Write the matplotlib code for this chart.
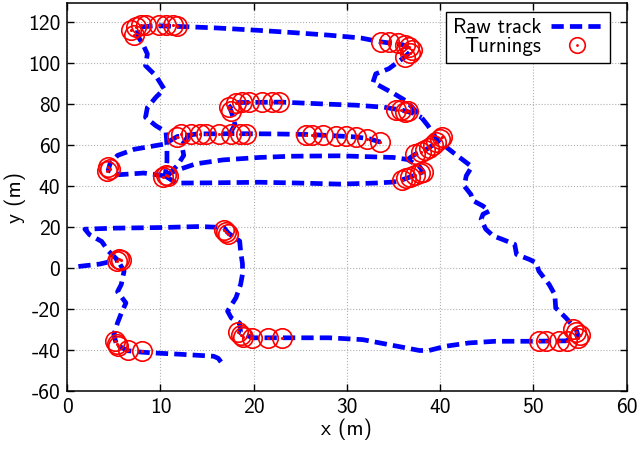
import numpy as np
import matplotlib
matplotlib.use('Agg')
import matplotlib.pyplot as plt
from matplotlib.legend_handler import HandlerTuple

plt.rcParams['font.family'] = ['cmss10', 'DejaVu Sans']
plt.rcParams['axes.unicode_minus'] = False
plt.rcParams['mathtext.fontset'] = 'cm'

nan = np.nan

# Raw track, pieces separated by NaN
track_x = [16.5, 16.2, 15.7, 12.0, 9.3, 8.0, 6.5, 5.3, 5.0, 5.4, 5.8, 6.3, 5.4, 5.8, 6.1, 5.4, nan,
           1.2, 3.5, 5.4, nan,
           5.4, 4.4, 3.7, 2.4, 1.9, 5.0, 10.0, 14.2, 16.8, 17.3, 18.5, 18.6, 18.8, 18.8, 18.6, 18.1, 17.2,
           17.6, 18.5, 18.6, 19.9, 24.5, 28.1, 31.7, 35.3, 37.8, 38.8, 40.6, 43.1, 45.9, 49.5, 53.5, 54.8,
           54.6, 53.5, 52.4, 52.3, 51.7, 50.6, 50.3, 49.6, 48.2, 48.0, 46.7, 45.7, 44.9, 44.4, 44.6, 45.3,
           44.6, 43.5, 43.3, 42.6, 42.8, 43.4, 41.4, 39.7, 38.7, 38.0, 37.0, 36.3, 35.1, 33.8, 32.8, 33.1,
           34.5, 36.2, 36.9, 36.0, 33.5, 31.5, 28.0, 24.0, 20.6, 16.0, 12.7, 9.5, 7.5, 7.6, 8.1, 8.6, 8.4,
           9.5, 10.4, 9.5, 8.6, 8.4, 9.5, 10.6, 10.7, 10.7, 10.5, nan,
           10.5, 8.2, 5.6, 4.4, 4.6, 5.4, 7.2, 10.4, 11.8, 14.0, 18.0, 22.0, 26.0, 29.0, 31.0, 32.5, 33.6, nan,
           10.8, 11.8, 12.5, 12.3, 13.0, nan,
           17.5, 18.0, 17.6, 17.4, 18.1, 23.0, 28.0, 31.0, 34.0, 36.0, 37.2, 38.0, nan,
           10.5, 11.7, 15.0, 20.6, 25.0, 29.2, 33.0, 35.0, 36.0, 37.0, 38.2, 37.8, 36.5, 35.0, 29.2, 24.0,
           20.6, 16.7, 13.8, 11.6, 10.5, nan,
           36.5, 37.3, 38.4, 39.2, 39.7]
track_y = [-45.8, -44.0, -43.0, -42.0, -41.4, -41.0, -40.3, -37.5, -32.5, -26.7, -22.0, -17.0, -11.5, -8.0, -1.5, 4.0, nan,
           0.8, 2.0, 4.0, nan,
           4.0, 8.4, 13.0, 16.3, 19.0, 19.5, 19.8, 20.3, 19.8, 17.0, 13.2, 8.3, 2.1, -3.0, -8.0, -14.5, -21.0,
           -24.3, -26.8, -31.6, -34.0, -34.0, -34.0, -34.9, -38.0, -40.2, -40.2, -38.1, -36.5, -35.7, -35.7, -35.5, -33.0,
           -30.0, -24.3, -19.4, -12.9, -8.0, -1.5, 2.6, 4.2, 6.7, 11.6, 14.0, 15.7, 19.0, 23.8, 26.3, 27.9,
           30.3, 33.0, 36.0, 40.0, 45.0, 49.5, 56.4, 62.5, 69.5, 73.5, 78.5, 81.7, 85.0, 88.2, 90.7, 94.8,
           97.3, 103.0, 106.0, 109.0, 110.5, 112.3, 113.7, 115.0, 116.0, 117.2, 117.8, 118.3, 117.5, 113.0, 109.4, 104.5, 98.8,
           93.9, 87.4, 83.3, 78.4, 73.6, 69.5, 66.5, 60.0, 52.0, 45.0, nan,
           45.0, 46.4, 45.6, 47.8, 51.0, 55.0, 58.0, 60.5, 64.2, 65.5, 65.6, 65.5, 65.2, 64.5, 64.0, 63.0, 61.5, nan,
           45.5, 50.0, 55.0, 60.0, 64.5, nan,
           66.0, 70.0, 76.5, 78.4, 80.8, 81.0, 80.0, 79.5, 78.5, 77.0, 75.5, 73.5, nan,
           45.0, 41.5, 41.6, 41.9, 41.5, 41.0, 41.5, 42.0, 43.2, 44.8, 47.0, 49.5, 53.0, 54.0, 54.8, 54.6,
           54.0, 52.8, 50.9, 47.5, 45.0, nan,
           53.0, 55.5, 57.5, 60.0, 62.5]

# Turnings
turn_x = [6.8, 7.2, 7.4, 7.9, 8.4, 9.9, 10.6, 11.3, 11.8,
          33.7, 34.5, 35.5, 36.2, 36.7, 37.0, 36.8, 36.2,
          17.4, 17.6, 18.1, 18.8, 19.5, 20.9, 22.0, 22.7,
          35.3, 35.8, 36.2, 36.6,
          11.8, 12.2, 13.3, 14.2, 14.9, 16.3, 17.6, 18.5, 19.2,
          25.6, 26.3, 27.4, 28.8, 29.9, 31.0, 32.2, 33.6,
          37.3, 37.9, 38.4, 38.8, 39.2, 39.6, 40.0, 40.2,
          35.9, 36.3, 36.8, 37.3, 37.8, 38.2,
          4.4, 4.3, 4.6,
          10.3, 10.6, 10.8,
          5.3, 5.6, 5.8,
          16.8, 17.0, 17.2,
          18.3, 18.6, 18.9, 19.8, 21.5, 23.0,
          5.1, 5.3, 5.5, 6.5, 8.0,
          50.6, 51.4, 52.8, 53.6, 54.3, 54.6, 55.0, 54.8]
turn_y = [116.0, 113.8, 117.6, 118.4, 118.4, 118.4, 118.4, 118.4, 118.2,
          110.5, 110.5, 110.0, 109.0, 108.0, 106.5, 105.0, 103.0,
          78.4, 76.5, 80.5, 81.0, 81.0, 81.0, 81.0, 81.0,
          77.0, 77.0, 76.3, 76.5,
          64.0, 65.5, 65.5, 65.5, 65.5, 65.5, 65.5, 65.5, 65.5,
          65.0, 65.0, 65.0, 64.5, 64.3, 64.0, 63.0, 61.5,
          55.5, 56.5, 57.5, 58.5, 60.0, 61.5, 63.0, 64.0,
          43.0, 43.8, 44.6, 45.4, 46.2, 47.0,
          49.5, 47.5, 48.5,
          44.5, 45.5, 44.8,
          3.5, 4.5, 4.0,
          18.5, 17.5, 16.8,
          -31.0, -32.5, -33.5, -34.0, -34.0, -34.0,
          -35.5, -37.0, -38.2, -40.0, -40.5,
          -35.7, -35.7, -35.7, -35.5, -29.5, -31.0, -32.5, -34.0]

xticks = [0, 10, 20, 30, 40, 50, 60]
yticks = [-60, -40, -20, 0, 20, 40, 60, 80, 100, 120]

fig = plt.figure(figsize=(6.4, 4.49), dpi=100)
ax = fig.add_axes([0.105, 0.129, 0.874, 0.864])

line, = ax.plot(track_x, track_y, color='#0000ff', lw=3.4, dashes=(2.6, 1.3),
                solid_capstyle='butt', dash_capstyle='butt', zorder=3)
circ, = ax.plot(turn_x, turn_y, ls='none', marker='o', ms=14, mfc='none',
                mec='#ff0000', mew=1.2, zorder=4)
dot, = ax.plot(turn_x, turn_y, ls='none', marker='.', ms=2.5, color='#ff0000', zorder=4)

ax.set_xlim(0, 60)
ax.set_ylim(-60, 129.3)
ax.set_xticks(xticks)
ax.set_yticks(yticks)
ax.grid(True, ls=':', color='#b0b0b0', lw=0.8)
ax.tick_params(direction='in', top=True, right=True, length=5, width=1, labelsize=15.5, pad=5)
for s in ax.spines.values():
    s.set_linewidth(1.1)
ax.set_xlabel('x (m)', fontsize=15.5, labelpad=1)
ax.set_ylabel('y (m)', fontsize=15.5, labelpad=1)

leg = ax.legend([line, (circ, dot)], ['Raw track', 'Turnings'],
                handler_map={tuple: HandlerTuple(ndivide=1)},
                loc='upper right', bbox_to_anchor=(0.970, 0.977), borderaxespad=0,
                fancybox=False, edgecolor='black', framealpha=1, fontsize=15,
                markerfirst=False, handlelength=2.5, markerscale=0.8,
                borderpad=0.3, labelspacing=0.0, handletextpad=0.5)
leg.get_frame().set_linewidth(1.0)
for col in leg._legend_handle_box.get_children():
    col.align = 'right'

fig.savefig('out.png', dpi=100)
